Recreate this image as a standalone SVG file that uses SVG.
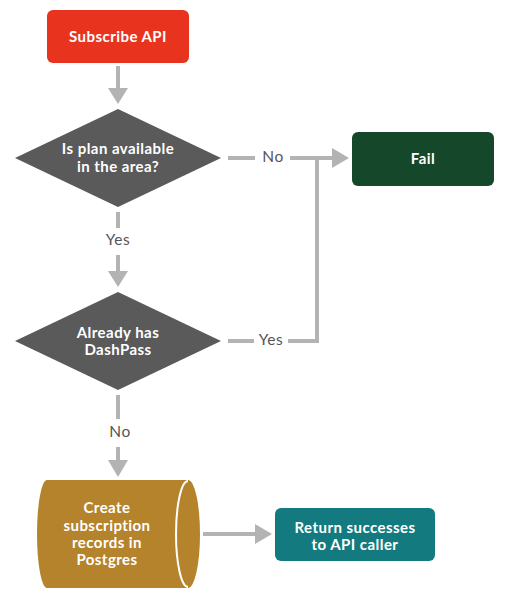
<svg xmlns="http://www.w3.org/2000/svg" width="517" height="609" viewBox="0 0 517 609">
<defs>
<style>
.t{font-family:Lato,"Open Sans","Liberation Sans",sans-serif;font-weight:bold;font-size:15px;letter-spacing:0.45px;fill:#fff;text-anchor:middle}
.l{font-family:Lato,"Open Sans","Liberation Sans",sans-serif;font-size:15.5px;letter-spacing:0.5px;fill:#555;text-anchor:middle}
.c{stroke:#b3b3b3;stroke-width:4;fill:none}
.h{fill:#b3b3b3}
</style>
</defs>
<rect width="517" height="609" fill="#fff"/>
<g id="subscribe">
<rect x="47" y="10" width="142" height="53" rx="6" fill="#e8331f"/>
<text class="t" x="118" y="42">Subscribe API</text>
</g>
<g id="plan">
<polygon points="118,109 221,158 118,207 15,158" fill="#5a5a5a"/>
<text class="t" x="118" y="154">Is plan available</text>
<text class="t" x="118" y="172">in the area?</text>
</g>
<g id="fail">
<rect x="352" y="132" width="142" height="54" rx="6" fill="#15472a"/>
<text class="t" x="423" y="164">Fail</text>
</g>
<g id="dashpass">
<polygon points="118,292 221,341 118,390 15,341" fill="#5a5a5a"/>
<text class="t" x="118" y="338">Already has</text>
<text class="t" x="118" y="355">DashPass</text>
</g>
<g id="create">
<path d="M47,480 L188,480 A12,54 0 0 1 188,588 L47,588 A10,54 0 0 1 47,480 Z" fill="#b5832b"/>
<path d="M188,481 A12,53 0 0 0 188,587" fill="none" stroke="#fff" stroke-width="2"/>
<text class="t" x="107" y="513">Create</text>
<text class="t" x="107" y="531">subscription</text>
<text class="t" x="107" y="548">records in</text>
<text class="t" x="107" y="565">Postgres</text>
</g>
<g id="return">
<rect x="275" y="508" width="160" height="53" rx="6" fill="#137b7f"/>
<text class="t" x="355" y="533">Return successes</text>
<text class="t" x="355" y="550">to API caller</text>
</g>
<g id="connectors">
<line class="c" x1="118" y1="66" x2="118" y2="89"/>
<polygon class="h" points="108,88 128,88 118,104"/>
<line class="c" x1="228" y1="158" x2="255" y2="158"/>
<text class="l" x="273" y="162">No</text>
<polyline class="c" points="290,158 334,158"/>
<polygon class="h" points="332,148 349,158 332,168"/>
<line class="c" x1="118" y1="212" x2="118" y2="228"/>
<text class="l" x="118" y="245">Yes</text>
<line class="c" x1="118" y1="255" x2="118" y2="272"/>
<polygon class="h" points="108,271 128,271 118,287"/>
<line class="c" x1="228" y1="341" x2="254" y2="341"/>
<text class="l" x="271" y="345">Yes</text>
<polyline class="c" points="288,341 317,341 317,158"/>
<line class="c" x1="118" y1="395" x2="118" y2="419"/>
<text class="l" x="120" y="437">No</text>
<line class="c" x1="118" y1="447" x2="118" y2="461"/>
<polygon class="h" points="108,460 128,460 118,477"/>
<line class="c" x1="203" y1="534" x2="257" y2="534"/>
<polygon class="h" points="255,524 272,534 255,544"/>
</g>
</svg>
